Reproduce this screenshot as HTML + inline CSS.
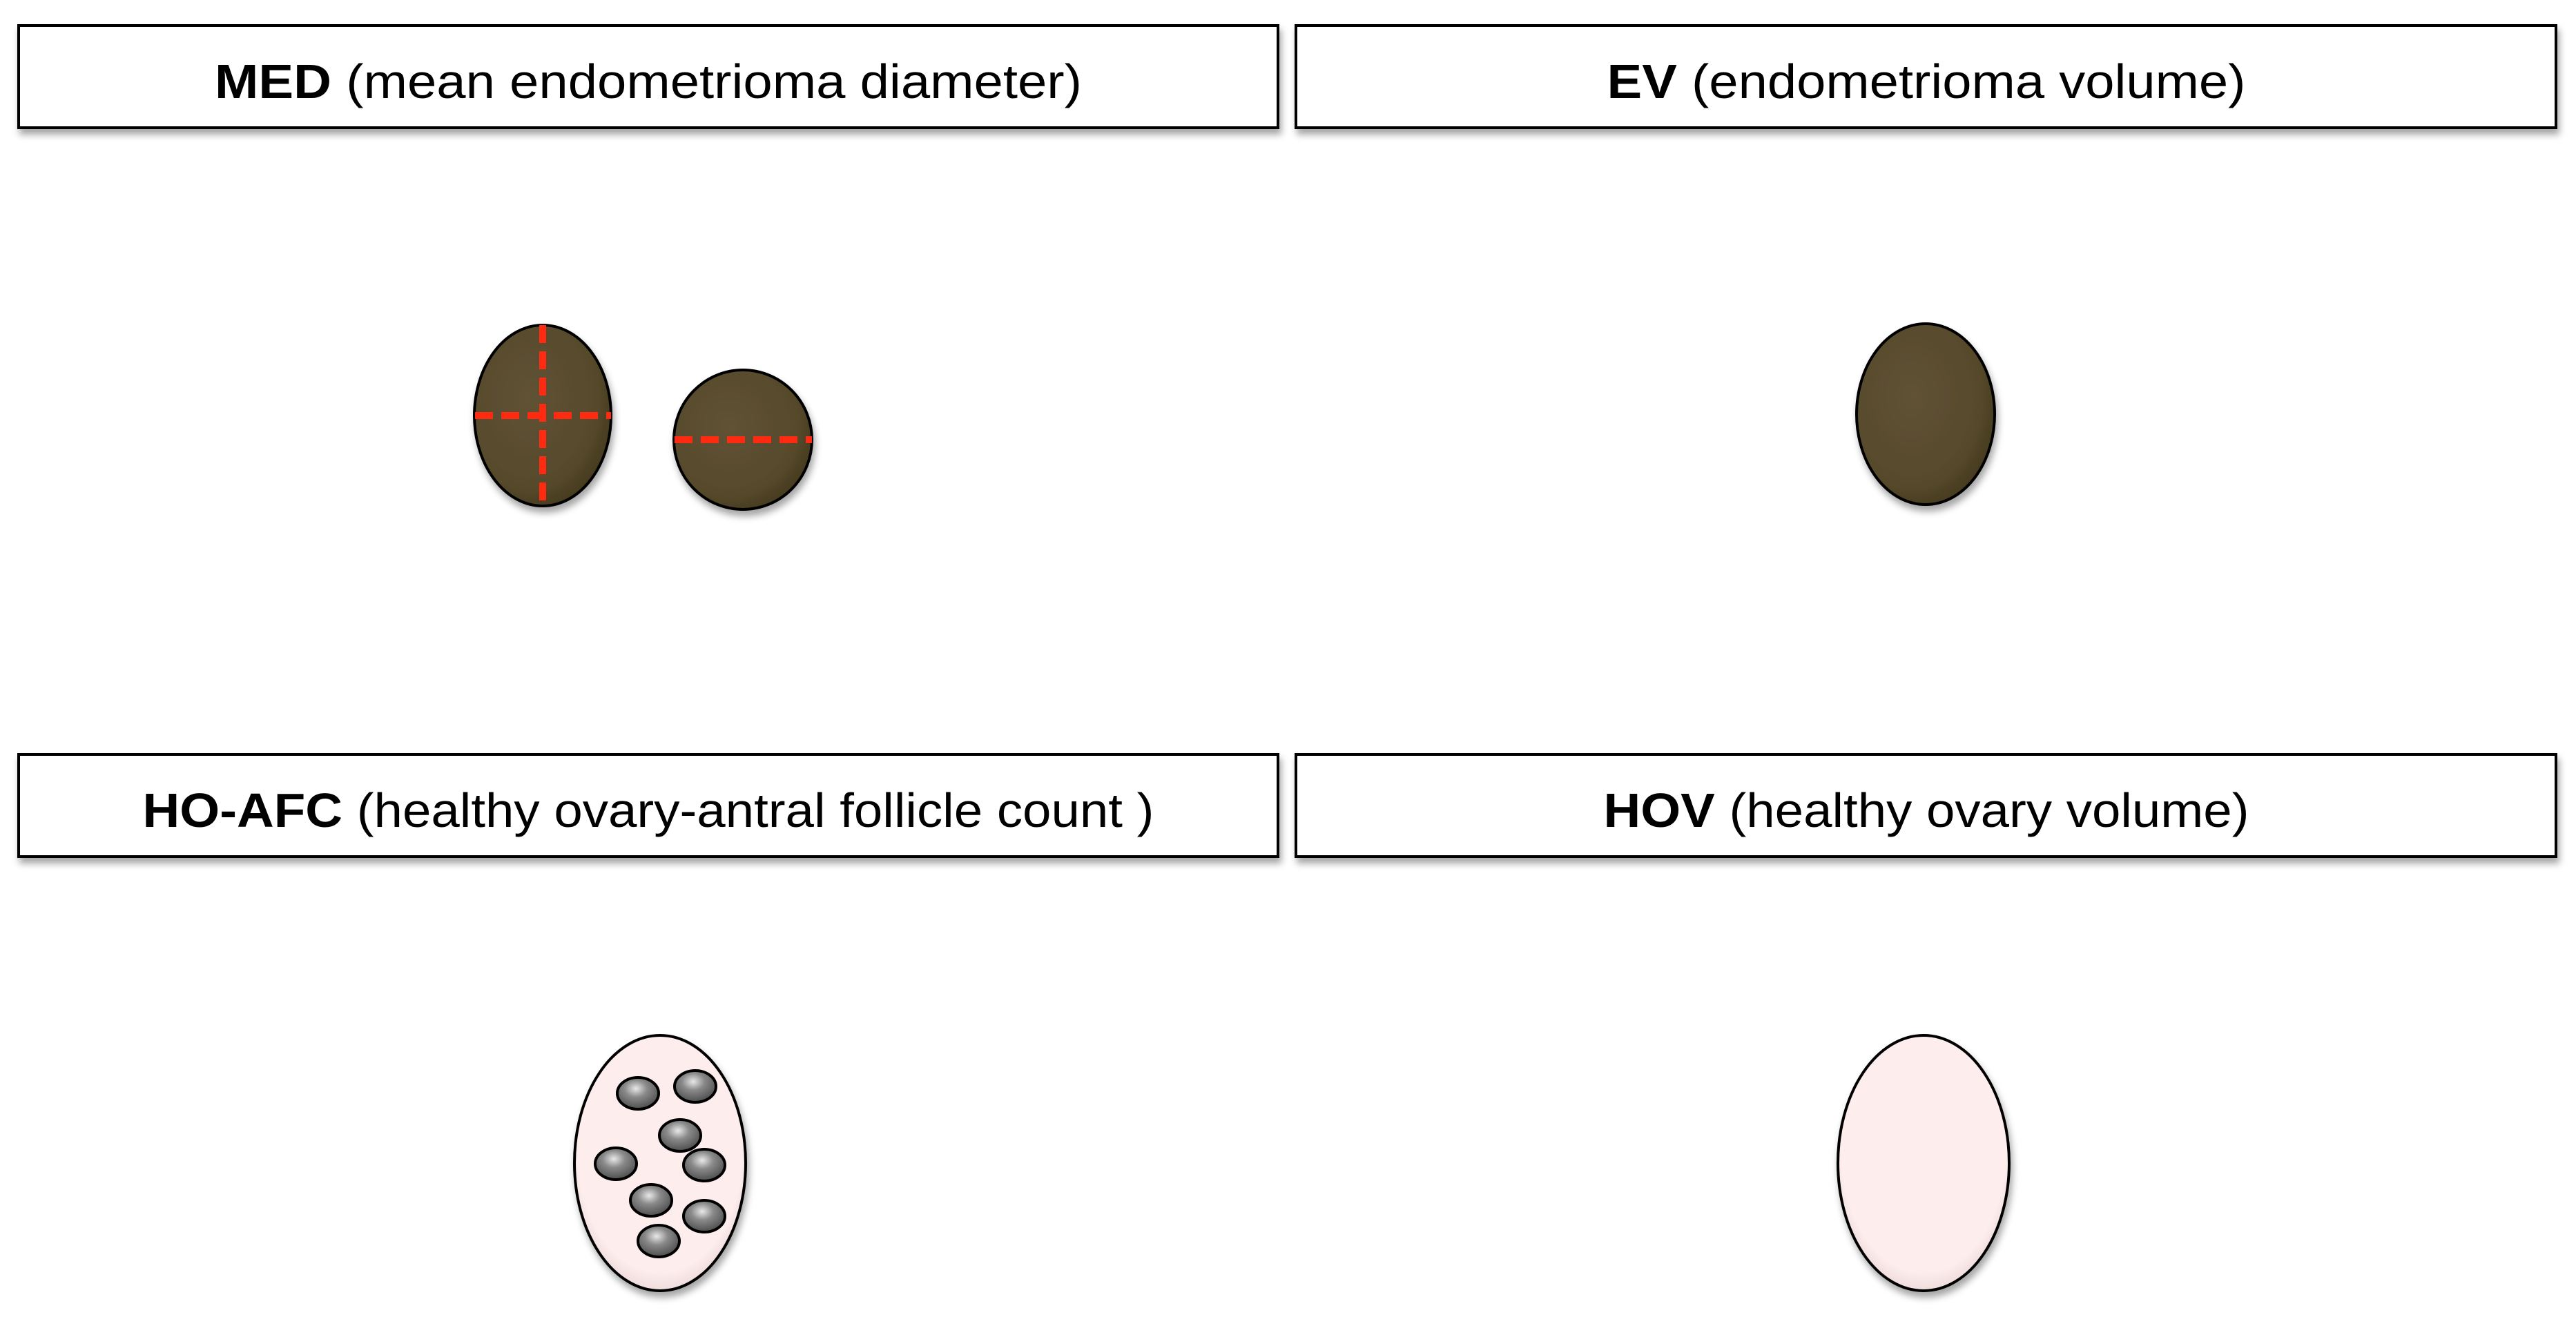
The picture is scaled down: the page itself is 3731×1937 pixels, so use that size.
<!DOCTYPE html>
<html><head><meta charset="utf-8"><style>html,body{margin:0;padding:0;background:#fff}svg{display:block}</style></head>
<body>
<svg width="3731" height="1937" viewBox="0 0 3731 1937" xmlns="http://www.w3.org/2000/svg" font-family="Liberation Sans, sans-serif">
<defs>
<filter id="sh" x="-10%" y="-10%" width="120%" height="130%"><feDropShadow dx="3" dy="8" stdDeviation="5" flood-color="#000" flood-opacity="0.35"/></filter>
<radialGradient id="brown" cx="0.4" cy="0.4" r="0.7"><stop offset="0" stop-color="#5f5234"/><stop offset="0.7" stop-color="#574a2c"/><stop offset="1" stop-color="#3e3418"/></radialGradient>
<radialGradient id="pink" cx="0.5" cy="0.45" r="0.6"><stop offset="0.8" stop-color="#fdeded"/><stop offset="1" stop-color="#e6d0d0"/></radialGradient>
<radialGradient id="fol" cx="0.45" cy="0.35" r="0.6"><stop offset="0" stop-color="#e8e8e8"/><stop offset="0.45" stop-color="#8a8a8a"/><stop offset="1" stop-color="#555"/></radialGradient>
</defs>
<g stroke="#000" stroke-width="4" fill="#fff" filter="url(#sh)">
<rect x="27" y="37" width="1824" height="148"/>
<rect x="1877" y="37" width="1825" height="148"/>
<rect x="27" y="1093" width="1824" height="148"/>
<rect x="1877" y="1093" width="1825" height="148"/>
</g>
<g font-size="70" fill="#000" text-anchor="middle">
<text x="939" y="142" textLength="1256" lengthAdjust="spacingAndGlyphs"><tspan font-weight="bold">MED</tspan> (mean endometrioma diameter)</text>
<text x="2790" y="142" textLength="925" lengthAdjust="spacingAndGlyphs"><tspan font-weight="bold">EV</tspan> (endometrioma volume)</text>
<text x="939" y="1198" textLength="1465" lengthAdjust="spacingAndGlyphs"><tspan font-weight="bold">HO-AFC</tspan> (healthy ovary-antral follicle count )</text>
<text x="2790" y="1198" textLength="935" lengthAdjust="spacingAndGlyphs"><tspan font-weight="bold">HOV</tspan> (healthy ovary volume)</text>
</g>
<g stroke="#000" stroke-width="4" fill="url(#brown)" filter="url(#sh)">
<ellipse cx="786" cy="602" rx="99" ry="131"/>
<ellipse cx="1076" cy="637" rx="100" ry="101"/>
<ellipse cx="2789" cy="600" rx="100" ry="131"/>
</g>
<g stroke="#ff2a10" stroke-width="10" stroke-dasharray="26 12">
<line x1="786" y1="471" x2="786" y2="734"/>
<line x1="688" y1="602" x2="885" y2="602"/>
<line x1="977" y1="637" x2="1176" y2="637"/>
</g>
<g stroke="#000" stroke-width="4" fill="url(#pink)" filter="url(#sh)">
<ellipse cx="956" cy="1685" rx="124" ry="185"/>
<ellipse cx="2786" cy="1685" rx="124" ry="185"/>
</g>
<g stroke="#000" stroke-width="4" fill="url(#fol)">
<ellipse cx="924" cy="1584" rx="30" ry="23"/>
<ellipse cx="1007" cy="1574" rx="30" ry="23"/>
<ellipse cx="985" cy="1645" rx="30" ry="23"/>
<ellipse cx="892" cy="1686" rx="30" ry="23"/>
<ellipse cx="1020" cy="1688" rx="30" ry="23"/>
<ellipse cx="943" cy="1739" rx="30" ry="23"/>
<ellipse cx="1020" cy="1762" rx="30" ry="23"/>
<ellipse cx="954" cy="1798" rx="30" ry="23"/>
</g>
</svg>
</body></html>
